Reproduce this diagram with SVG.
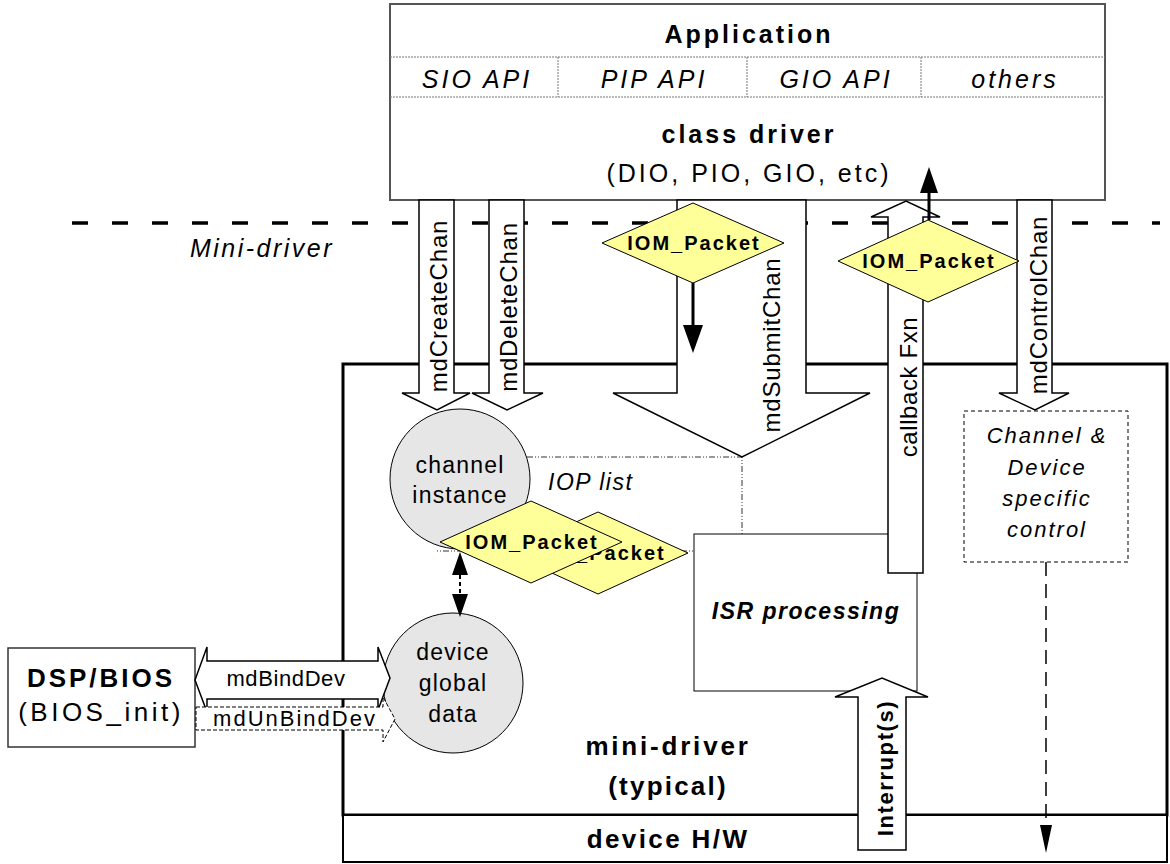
<svg xmlns="http://www.w3.org/2000/svg" width="1170" height="864" viewBox="0 0 1170 864">
<style>
text{font-family:"Liberation Sans",Arial,sans-serif;fill:#000}
.top{font-size:25px;letter-spacing:3px;text-anchor:middle}
.b{font-weight:bold}
.i{font-style:italic}
.vt{font-size:24px;letter-spacing:0.8px;text-anchor:middle}
.circ{font-size:23px;letter-spacing:1.2px;text-anchor:middle}
.pkt{font-size:20px;font-weight:bold;letter-spacing:2px;text-anchor:middle}
.hollow{fill:#fff;stroke:#000;stroke-width:1.5;stroke-linejoin:miter}
.dia{fill:#ffff99;stroke:#000;stroke-width:1}
.node{fill:#e6e6e6;stroke:#000;stroke-width:1}
.blk{fill:#000;stroke:none}
</style>
<rect width="1170" height="864" fill="#fff"/>

<!-- Application / class driver -->
<g id="application">
<rect x="390" y="4" width="715" height="196" fill="#fff" stroke="#555" stroke-width="2"/>
<g stroke="#777" stroke-width="1" stroke-dasharray="2,1">
<line x1="390" y1="57" x2="1105" y2="57"/>
<line x1="390" y1="97" x2="1105" y2="97"/>
<line x1="558" y1="57" x2="558" y2="97"/>
<line x1="747" y1="57" x2="747" y2="97"/>
<line x1="921" y1="57" x2="921" y2="97"/>
</g>
<text class="top b" x="749" y="43">Application</text>
<text class="top i" x="477" y="88">SIO API</text>
<text class="top i" x="654" y="88">PIP API</text>
<text class="top i" x="836" y="88">GIO API</text>
<text class="top i" x="1015" y="88">others</text>
<text class="top b" x="749" y="143">class driver</text>
<text class="top" x="749" y="182">(DIO, PIO, GIO, etc)</text>
</g>

<!-- Mini-driver boundary -->
<g id="boundary">
<line x1="72" y1="223" x2="1160" y2="223" stroke="#000" stroke-width="3.5" stroke-dasharray="16,24"/>
<text class="top i" x="262" y="257" style="letter-spacing:2.5px">Mini-driver</text>
</g>

<!-- mini-driver box -->
<g id="minidriver">
<rect x="343" y="364" width="824" height="451" fill="none" stroke="#000" stroke-width="3"/>
<text class="top b" x="668" y="755" style="font-size:26px;letter-spacing:2.8px">mini-driver</text>
<text class="top b" x="668" y="795" style="font-size:26px;letter-spacing:2.2px">(typical)</text>
</g>

<g id="devicehw">
<rect x="343" y="815" width="824" height="47" fill="#fff" stroke="#000" stroke-width="2"/>
<text class="top b" x="668" y="848" style="font-size:26px;letter-spacing:2.4px">device H/W</text>
</g>

<!-- DSP/BIOS -->
<g id="dspbios">
<rect x="8" y="648" width="187" height="99" fill="#fff" stroke="#333" stroke-width="1.5"/>
<text class="top b" x="101" y="687" style="font-size:26px;letter-spacing:3px">DSP/BIOS</text>
<text class="top" x="101" y="721" style="font-size:26px;letter-spacing:3.5px">(BIOS_init)</text>
</g>

<!-- IOP list frame -->
<g id="ioplist">
<polyline points="527,457 742,457 742,551 437,551" fill="none" stroke="#333" stroke-width="1" stroke-dasharray="6,2,1,2,1,2"/>
<text class="i" x="548" y="490" style="font-size:23px;letter-spacing:1.5px">IOP list</text>
</g>

<!-- ISR processing -->
<g id="isr">
<rect x="694" y="534" width="223" height="157" fill="#fff" stroke="#000" stroke-width="1"/>
<text class="b i" x="806" y="619" text-anchor="middle" style="font-size:23px;letter-spacing:1.5px">ISR processing</text>
</g>

<!-- Channel & Device specific control -->
<g id="control">
<rect x="964" y="411" width="164" height="151" fill="#fff" stroke="#000" stroke-width="1" stroke-dasharray="4,3"/>
<text class="i" x="1047" y="443" text-anchor="middle" style="font-size:22px;letter-spacing:2px">Channel &amp;</text>
<text class="i" x="1047" y="475" text-anchor="middle" style="font-size:22px;letter-spacing:2px">Device</text>
<text class="i" x="1047" y="506" text-anchor="middle" style="font-size:22px;letter-spacing:2px">specific</text>
<text class="i" x="1047" y="537" text-anchor="middle" style="font-size:22px;letter-spacing:2px">control</text>
</g>

<!-- circles -->
<g id="channel">
<circle class="node" cx="460" cy="479" r="70"/>
<text class="circ" x="460" y="473">channel</text>
<text class="circ" x="460" y="503">instance</text>
</g>
<g id="deviceglobal">
<circle class="node" cx="453" cy="683" r="70"/>
<text class="circ" x="453" y="660">device</text>
<text class="circ" x="453" y="691">global</text>
<text class="circ" x="453" y="722">data</text>
</g>

<!-- connectors -->
<g id="connectors">
<polygon class="hollow" points="419,200 454,200 454,393 470,393 437,410 402,393 419,393"/>
<text class="vt" transform="translate(447,306) rotate(-90)">mdCreateChan</text>
<polygon class="hollow" points="489,200 524,200 524,393 543,393 507,410 472,393 489,393"/>
<text class="vt" transform="translate(517,307) rotate(-90)">mdDeleteChan</text>
<polygon class="hollow" points="677,200 806,200 806,393 870,393 742,457 613,393 677,393"/>
<text class="vt" transform="translate(780,345) rotate(-90)">mdSubmitChan</text>
<polygon class="hollow" points="888,573 888,217 871,217 906,201 940,217 923,217 923,573"/>
<text class="vt" transform="translate(917,387) rotate(-90)" style="letter-spacing:0.6px">callback Fxn</text>
<polygon class="hollow" points="1017,200 1052,200 1052,393 1069,393 1035,410 999,393 1017,393"/>
<text class="vt" transform="translate(1047,305) rotate(-90)">mdControlChan</text>
<polygon class="hollow" points="858,850 858,697 835,697 882,678 928,697 906,697 906,850"/>
<text class="vt b" transform="translate(893,768) rotate(-90)" style="font-size:22px;letter-spacing:1.6px">Interrupt(s)</text>

<polygon class="hollow" points="195,680 207,647 207,661 378,661 378,647 390,678 378,710 378,699 207,699 207,712"/>
<text x="286" y="686" text-anchor="middle" style="font-size:22px;letter-spacing:0.6px">mdBindDev</text>
<polygon points="196,707 383,707 383,697 395,719 383,742 383,730 196,730" fill="#fff" stroke="#000" stroke-width="1" stroke-dasharray="4,2"/>
<text x="295" y="726" text-anchor="middle" style="font-size:22px;letter-spacing:2px">mdUnBindDev</text>

<line x1="460" y1="575" x2="460" y2="595" stroke="#000" stroke-width="2" stroke-dasharray="4,3"/>
<polygon class="blk" points="452,575 468,575 460,552"/>
<polygon class="blk" points="452,594 468,594 460,617"/>

<line x1="1046" y1="562" x2="1046" y2="828" stroke="#000" stroke-width="1.5" stroke-dasharray="14,8"/>
<polygon class="blk" points="1040,825 1052,825 1046,853"/>
</g>

<!-- packets -->
<g id="packet-submit">
<polygon class="dia" points="602,243 693,203 784,243 693,283"/>
<text class="pkt" x="694" y="250">IOM_Packet</text>
<line x1="693" y1="283" x2="693" y2="328" stroke="#000" stroke-width="3"/>
<polygon class="blk" points="683,325 703,325 693,353"/>
</g>
<g id="packet-callback">
<line x1="929" y1="220" x2="929" y2="190" stroke="#000" stroke-width="3"/>
<polygon class="blk" points="920,193 938,193 929,167"/>
<polygon class="dia" points="838,261 928,220 1019,261 928,302"/>
<text class="pkt" x="929" y="268">IOM_Packet</text>
</g>
<g id="packet-list2">
<polygon class="dia" points="508,553 598,512 688,553 598,594"/>
<text class="pkt" x="599" y="560">IOM_Packet</text>
</g>
<g id="packet-list1">
<polygon class="dia" points="440,542 531,501 622,542 531,583"/>
<text class="pkt" x="532" y="549">IOM_Packet</text>
</g>
</svg>
